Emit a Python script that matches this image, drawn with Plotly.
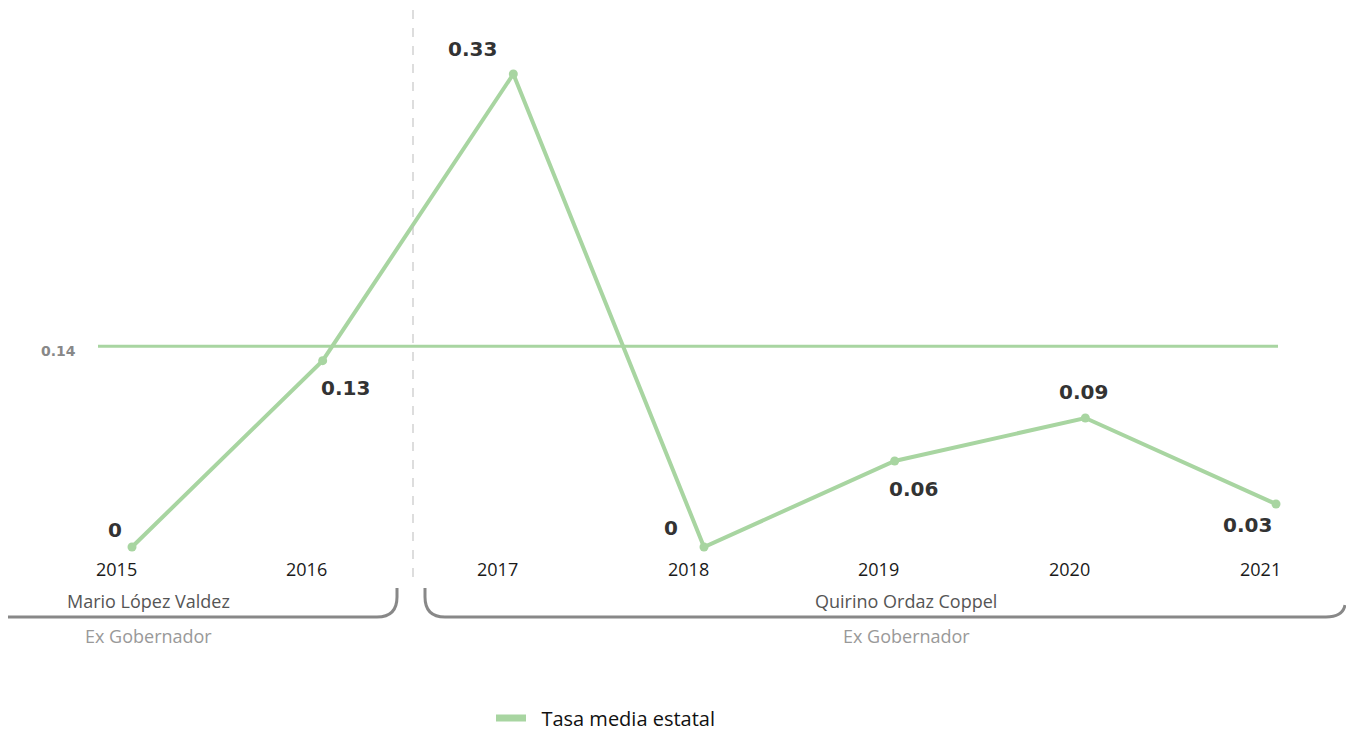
import plotly.graph_objects as go

# %%
anios = [2015, 2016, 2017, 2018, 2019, 2020, 2021]
tasa = [0, 0.13, 0.33, 0, 0.06, 0.09, 0.03]
etiquetas = ["0", "0.13", "0.33", "0", "0.06", "0.09", "0.03"]
tasa_media = 0.14
gobernadores = ["Mario López Valdez", "Quirino Ordaz Coppel"]
cargo = "Ex Gobernador"
nombre_serie = "Tasa media estatal"

# label offsets (px) relative to each point
off_x = [-17, 23, -41, -33, 19, -2, -29]
off_y = [17, -27, 25, 19, -28, 26, -21]

W, H = 1346, 731
VERDE = "#a8d5a1"


def px(x):
    return x / W


def py(y):
    return (H - y) / H


# %%
fig = go.Figure()

fig.add_trace(go.Scatter(
    x=anios, y=tasa,
    mode="lines+markers",
    line=dict(color=VERDE, width=4),
    marker=dict(color=VERDE, size=9),
    showlegend=False,
    hoverinfo="x+y",
))

# legend-only entry
fig.add_trace(go.Scatter(
    x=[None], y=[None],
    mode="lines",
    line=dict(color=VERDE, width=7),
    name="&nbsp;&nbsp;" + nombre_serie,
))

# average line
fig.add_shape(type="line", xref="paper", yref="y",
              x0=px(98), x1=px(1278), y0=tasa_media, y1=tasa_media,
              line=dict(color=VERDE, width=3))
fig.add_annotation(xref="paper", yref="y", x=px(58), y=tasa_media, yshift=-5,
                   xanchor="center", yanchor="middle",
                   text=f"<b>{tasa_media}</b>", showarrow=False,
                   font=dict(family="DejaVu Sans", size=14, color="#888888"))

# value labels
for a, v, t, dx, dy in zip(anios, tasa, etiquetas, off_x, off_y):
    fig.add_annotation(x=a, y=v, text=f"<b>{t}</b>", showarrow=False,
                       xshift=dx, yshift=dy, xanchor="center", yanchor="middle",
                       font=dict(family="DejaVu Sans", size=20, color="#333333"))

# year labels
for a in anios:
    fig.add_annotation(x=a, yref="paper", y=py(569), text=str(a), showarrow=False,
                       xshift=-16, xanchor="center", yanchor="middle",
                       font=dict(family="Open Sans", size=18, color="#1a1a1a"))

# separator between periods
fig.add_shape(type="line", xref="paper", yref="paper",
              x0=px(413), x1=px(413), y0=py(10), y1=py(580),
              line=dict(color="#bbbbbb", width=1, dash="dash"))


# brackets
def p(x, y):
    return f"{px(x):.5f},{py(y):.5f}"


izq = f"M{p(8, 617)} L{p(377, 617)} Q{p(397, 617)} {p(397, 597)} L{p(397, 588)}"
der = (f"M{p(425, 588)} L{p(425, 597)} Q{p(425, 617)} {p(445, 617)} "
       f"L{p(1326, 617)} Q{p(1343, 617)} {p(1345, 605)}")
for path in (izq, der):
    fig.add_shape(type="path", xref="paper", yref="paper", path=path,
                  line=dict(color="#888888", width=3))

for nombre, cx in zip(gobernadores, (148, 906)):
    fig.add_annotation(xref="paper", yref="paper", x=px(cx), y=py(601), text=nombre,
                       showarrow=False, xanchor="center", yanchor="middle",
                       font=dict(family="Open Sans", size=18, color="#555555"))
    fig.add_annotation(xref="paper", yref="paper", x=px(cx), y=py(636), text=cargo,
                       showarrow=False, xanchor="center", yanchor="middle",
                       font=dict(family="Open Sans", size=18, color="#999999"))

# axes scaled so 2015 -> 132px, 2021 -> 1276px, 0 -> 547px, 0.33 -> 74px
ppx = (1276 - 132) / 6
ppy = (547 - 74) / 0.33
fig.update_xaxes(range=[2015 - 132 / ppx, 2021 + (W - 1276) / ppx], visible=False)
fig.update_yaxes(range=[-(H - 547) / ppy, 0.33 + 74 / ppy], visible=False)

fig.update_layout(
    width=W, height=H,
    margin=dict(l=0, r=0, t=0, b=0, autoexpand=False),
    plot_bgcolor="white", paper_bgcolor="white",
    font_family="Open Sans",
    legend=dict(orientation="h", x=px(491), xanchor="left", y=py(718), yanchor="middle",
                font=dict(size=20, color="#111111")),
)

fig.write_html("out.html", config={"displayModeBar": False},
               post_script="document.body.style.margin='0';")
